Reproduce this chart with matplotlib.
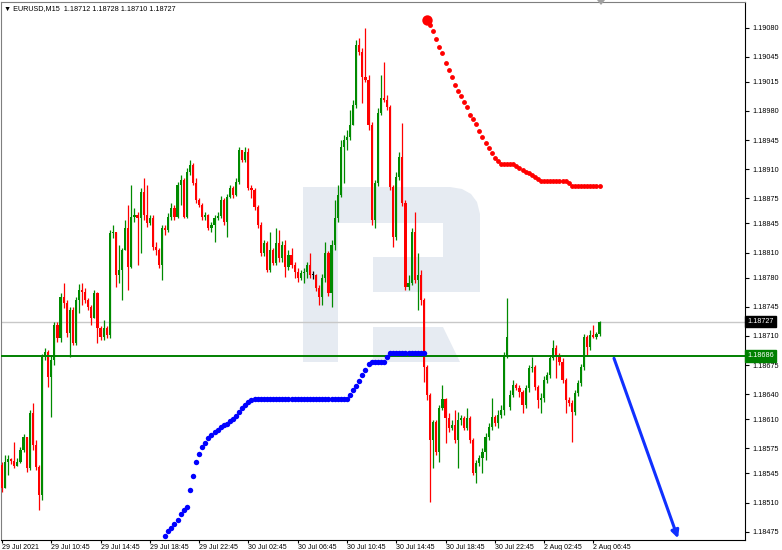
import numpy as np
import matplotlib
matplotlib.use('Agg')
import matplotlib.pyplot as plt
from matplotlib.patches import Polygon

plt.rcParams['font.family'] = ['Liberation Sans', 'DejaVu Sans']

# EURUSD M15 candles, 195 bars (open = previous close unless a gap is listed)
first_open = 1.18555
gap_opens = {165: 1.18625}

closes = [
    1.18527, 1.18559, 1.18562, 1.18560, 1.18554, 1.18559, 1.18573, 1.18589, 1.18551, 1.18617,
    1.18579, 1.18553, 1.18519, 1.18685, 1.18691, 1.18661, 1.18681, 1.18723, 1.18707, 1.18757,
    1.18749, 1.18713, 1.18741, 1.18701, 1.18753, 1.18765, 1.18763, 1.18753, 1.18745, 1.18731,
    1.18761, 1.18719, 1.18709, 1.18719, 1.18711, 1.18833, 1.18835, 1.18783, 1.18789, 1.18813,
    1.18839, 1.18793, 1.18853, 1.18855, 1.18851, 1.18883, 1.18855, 1.18845, 1.18851, 1.18817,
    1.18813, 1.18795, 1.18839, 1.18837, 1.18853, 1.18863, 1.18853, 1.18891, 1.18897, 1.18853,
    1.18907, 1.18915, 1.18893, 1.18873, 1.18867, 1.18853, 1.18855, 1.18839, 1.18843, 1.18851,
    1.18854, 1.18873, 1.18847, 1.18877, 1.18887, 1.18879, 1.18895, 1.18933, 1.18921, 1.18931,
    1.18887, 1.18885, 1.18865, 1.18843, 1.18809, 1.18821, 1.18789, 1.18813, 1.18797, 1.18821,
    1.18803, 1.18819, 1.18793, 1.18807, 1.18795, 1.18787, 1.18779, 1.18785, 1.18787, 1.18795,
    1.18783, 1.18783, 1.18767, 1.18757, 1.18779, 1.18809, 1.18761, 1.18819, 1.18851, 1.18879,
    1.18937, 1.18945, 1.18949, 1.18963, 1.18987, 1.19059, 1.19051, 1.19021, 1.19017, 1.18963,
    1.18849, 1.18893, 1.18977, 1.18995, 1.18993, 1.18985, 1.18889, 1.18829, 1.18901, 1.18925,
    1.18869, 1.18769, 1.18773, 1.18835, 1.18777, 1.18783, 1.18753, 1.18673, 1.18639, 1.18585,
    1.18607, 1.18571, 1.18623, 1.18634, 1.18611, 1.18599, 1.18603, 1.18585, 1.18609, 1.18611,
    1.18599, 1.18611, 1.18585, 1.18545, 1.18557, 1.18563, 1.18571, 1.18589, 1.18601, 1.18613,
    1.18605, 1.18615, 1.18621, 1.18687, 1.18709, 1.18639, 1.18651, 1.18647, 1.18643, 1.18627,
    1.18647, 1.18671, 1.18673, 1.18649, 1.18633, 1.18635, 1.18657, 1.18663, 1.18683, 1.18695,
    1.18686, 1.18679, 1.18657, 1.18633, 1.18629, 1.18619, 1.18641, 1.18653, 1.18673, 1.18709,
    1.18697, 1.18711, 1.18709, 1.18712, 1.18727,
]

highs = [
    1.18559, 1.18567, 1.18567, 1.18563, 1.18583, 1.18563, 1.18577, 1.18592, 1.18589, 1.18621,
    1.18629, 1.18585, 1.18555, 1.18688, 1.18695, 1.18693, 1.18687, 1.18727, 1.18727, 1.18761,
    1.18773, 1.18753, 1.18745, 1.18745, 1.18757, 1.18772, 1.18773, 1.18767, 1.18755, 1.18747,
    1.18765, 1.18763, 1.18722, 1.18729, 1.18722, 1.18837, 1.18843, 1.18835, 1.18819, 1.18815,
    1.18849, 1.18867, 1.18891, 1.18863, 1.18859, 1.18887, 1.18899, 1.18891, 1.18855, 1.18855,
    1.18823, 1.18815, 1.18843, 1.18843, 1.18857, 1.18869, 1.18867, 1.18895, 1.18903, 1.18899,
    1.18911, 1.18921, 1.18917, 1.18899, 1.18875, 1.18869, 1.18859, 1.18856, 1.18847, 1.18855,
    1.18859, 1.18878, 1.18875, 1.18880, 1.18891, 1.18890, 1.18899, 1.18937, 1.18933, 1.18937,
    1.18935, 1.18891, 1.18887, 1.18867, 1.18847, 1.18825, 1.18824, 1.18835, 1.18815, 1.18839,
    1.18837, 1.18824, 1.18825, 1.18813, 1.18815, 1.18799, 1.18791, 1.18789, 1.18791, 1.18799,
    1.18809, 1.18788, 1.18784, 1.18771, 1.18784, 1.18823, 1.18812, 1.18825, 1.18873, 1.18891,
    1.18945, 1.18951, 1.18957, 1.18981, 1.18993, 1.19065, 1.19067, 1.19055, 1.19079, 1.19023,
    1.18967, 1.18897, 1.18983, 1.19023, 1.19039, 1.18999, 1.18987, 1.18891, 1.18907, 1.18931,
    1.18965, 1.18873, 1.18783, 1.18839, 1.18859, 1.18809, 1.18789, 1.18755, 1.18675, 1.18641,
    1.18609, 1.18609, 1.18627, 1.18651, 1.18635, 1.18617, 1.18609, 1.18621, 1.18619, 1.18615,
    1.18614, 1.18623, 1.18614, 1.18587, 1.18561, 1.18567, 1.18575, 1.18593, 1.18605, 1.18635,
    1.18615, 1.18621, 1.18627, 1.18691, 1.18755, 1.18645, 1.18657, 1.18653, 1.18651, 1.18645,
    1.18651, 1.18675, 1.18685, 1.18675, 1.18651, 1.18641, 1.18662, 1.18667, 1.18687, 1.18705,
    1.18699, 1.18689, 1.18683, 1.18659, 1.18637, 1.18633, 1.18645, 1.18657, 1.18676, 1.18712,
    1.18711, 1.18717, 1.18723, 1.18715, 1.18728,
]

lows = [
    1.18523, 1.18537, 1.18543, 1.18556, 1.18551, 1.18554, 1.18557, 1.18571, 1.18547, 1.18549,
    1.18573, 1.18549, 1.18501, 1.18513, 1.18681, 1.18649, 1.18613, 1.18675, 1.18703, 1.18703,
    1.18743, 1.18709, 1.18685, 1.18699, 1.18699, 1.18737, 1.18747, 1.18749, 1.18741, 1.18723,
    1.18731, 1.18701, 1.18705, 1.18705, 1.18707, 1.18707, 1.18827, 1.18769, 1.18773, 1.18753,
    1.18825, 1.18765, 1.18791, 1.18847, 1.18795, 1.18809, 1.18849, 1.18841, 1.18843, 1.18813,
    1.18807, 1.18791, 1.18777, 1.18831, 1.18835, 1.18849, 1.18849, 1.18851, 1.18867, 1.18851,
    1.18851, 1.18903, 1.18891, 1.18869, 1.18865, 1.18849, 1.18849, 1.18837, 1.18835, 1.18823,
    1.18849, 1.18851, 1.18843, 1.18829, 1.18875, 1.18875, 1.18878, 1.18892, 1.18919, 1.18919,
    1.18885, 1.18875, 1.18861, 1.18839, 1.18806, 1.18806, 1.18787, 1.18787, 1.18795, 1.18795,
    1.18799, 1.18799, 1.18781, 1.18789, 1.18791, 1.18779, 1.18775, 1.18777, 1.18773, 1.18779,
    1.18779, 1.18778, 1.18764, 1.18747, 1.18747, 1.18775, 1.18758, 1.18745, 1.18813, 1.18847,
    1.18877, 1.18893, 1.18933, 1.18945, 1.18963, 1.18983, 1.19047, 1.18989, 1.19015, 1.18957,
    1.18843, 1.18839, 1.18890, 1.18975, 1.18991, 1.18981, 1.18885, 1.18817, 1.18825, 1.18897,
    1.18866, 1.18765, 1.18765, 1.18771, 1.18773, 1.18741, 1.18747, 1.18655, 1.18633, 1.18511,
    1.18551, 1.18567, 1.18559, 1.18621, 1.18581, 1.18595, 1.18597, 1.18581, 1.18551, 1.18603,
    1.18597, 1.18597, 1.18581, 1.18543, 1.18533, 1.18554, 1.18545, 1.18561, 1.18585, 1.18597,
    1.18602, 1.18599, 1.18611, 1.18615, 1.18683, 1.18621, 1.18637, 1.18645, 1.18637, 1.18617,
    1.18623, 1.18643, 1.18667, 1.18645, 1.18623, 1.18617, 1.18631, 1.18653, 1.18659, 1.18681,
    1.18659, 1.18675, 1.18653, 1.18617, 1.18626, 1.18583, 1.18615, 1.18638, 1.18650, 1.18669,
    1.18687, 1.18693, 1.18707, 1.18706, 1.18710,
]

# Parabolic SAR dots
sar_up_start = 53
sar_up = ([1.18470, 1.18476, 1.18479, 1.18484, 1.18489, 1.18496, 1.18501, 1.18505, 1.18525,
           1.18542, 1.18559, 1.18568, 1.18577, 1.18581, 1.18587, 1.18591, 1.18595, 1.18597,
           1.18601, 1.18603, 1.18604, 1.18608, 1.18610, 1.18614, 1.18619, 1.18623, 1.18627,
           1.18631, 1.18633]
          + [1.18634] * 31
          + [1.18639, 1.18645, 1.18650, 1.18656, 1.18663, 1.18669, 1.18676]
          + [1.18679] * 5 + [1.18685] + [1.18689] * 12)
sar_dn_start = 138
sar_dn = ([1.19089, 1.19083, 1.19076, 1.19066, 1.19057, 1.19049, 1.19037, 1.19029, 1.19021,
           1.19011, 1.19004, 1.18998, 1.18991, 1.18985, 1.18975, 1.18970, 1.18964, 1.18956,
           1.18949, 1.18941, 1.18935, 1.18929, 1.18923, 1.18920]
          + [1.18916] * 5
          + [1.18914, 1.18911, 1.18909, 1.18907, 1.18905, 1.18903, 1.18901, 1.18898]
          + [1.18896] * 9 + [1.18893] + [1.18890] * 10)

level_line = 1.18686
last_price = 1.18727
arrow_from = (198.7, 1.18683)
arrow_to = (219.5, 1.18467)

y_ticks = [1.19080, 1.19045, 1.19015, 1.18980, 1.18945, 1.18910, 1.18875, 1.18845, 1.18810,
           1.18780, 1.18745, 1.18710, 1.18675, 1.18640, 1.18610, 1.18575, 1.18545, 1.18510,
           1.18475]
x_tick_labels = ['29 Jul 2021', '29 Jul 10:45', '29 Jul 14:45', '29 Jul 18:45', '29 Jul 22:45',
                 '30 Jul 02:45', '30 Jul 06:45', '30 Jul 10:45', '30 Jul 14:45', '30 Jul 18:45',
                 '30 Jul 22:45', '2 Aug 02:45', '2 Aug 06:45']

W, H = 782, 550
fs = 5.2
fig = plt.figure(figsize=(W / 100, H / 100), dpi=100)
fig.patch.set_facecolor('white')
ax = fig.add_axes([1 / W, 10 / H, 744 / W, 538 / H])

closes = np.array(closes)
highs = np.array(highs)
lows = np.array(lows)
opens = np.r_[first_open, closes[:-1]]
for k, v in gap_opens.items():
    opens[k] = v
highs = np.maximum(highs, np.maximum(opens, closes))
lows = np.minimum(lows, np.minimum(opens, closes))
idx = np.arange(len(closes))

# watermark logo (pixel coords -> axes fraction)
def px2ax(pts):
    return [((px - 1) / 744, 1 - (py - 2) / 538) for px, py in pts]

wm = '#e6ebf2'
ax.add_patch(Polygon(px2ax([(303, 187), (450, 187), (462, 189), (471, 194), (477, 202),
                            (480, 214), (480, 292), (373, 292), (373, 257), (443, 257),
                            (443, 223), (338, 223), (338, 362), (303, 362)]),
                     closed=True, transform=ax.transAxes, color=wm, lw=0, zorder=0))
ax.add_patch(Polygon(px2ax([(373, 327), (443, 327), (460, 362), (373, 362)]),
                     closed=True, transform=ax.transAxes, color=wm, lw=0, zorder=0))

# horizontal lines
ax.axhline(last_price, color='#c8c8c8', lw=1, zorder=1)
ax.axhline(level_line, color='#008000', lw=1.4, zorder=4)

# candles
up = closes > opens
dn = closes < opens
col = np.where(up, '#008a00', np.where(dn, '#ff0000', '#000000'))
ax.vlines(idx, lows, highs, colors=col, lw=0.9, zorder=2)
body = closes - opens
body = np.where(np.abs(body) < 1e-5, 1.2e-5, body)
ax.bar(idx, body, bottom=opens, width=0.7, color=col, lw=0, zorder=3)

# SAR
ax.plot(np.arange(sar_up_start, sar_up_start + len(sar_up)), sar_up, 'o',
        color='#0000ff', ms=3.9, mew=0, zorder=5)
ax.plot(np.arange(sar_dn_start, sar_dn_start + len(sar_dn)), sar_dn, 'o',
        color='#ff0000', ms=3.5, mew=0, zorder=5)
ax.plot([sar_dn_start], [sar_dn[0]], 'o', color='#ff0000', ms=7.5, mew=0, zorder=5)

# arrow
ax.annotate('', xy=arrow_to, xytext=arrow_from, annotation_clip=False,
            arrowprops=dict(arrowstyle='-|>', color='#1030ff', lw=2.2,
                            mutation_scale=11, shrinkA=0, shrinkB=0), zorder=6)

step = 3.08
ax.set_xlim((1 - 2) / step, (745 - 2) / step)
ax.set_ylim(1.19113 - 0.000012 * 540, 1.19113 - 0.000012 * 2)

ax.yaxis.tick_right()
ax.set_yticks(y_ticks)
ax.set_yticklabels(['%.5f' % v for v in y_ticks])
ax.tick_params(axis='y', direction='out', length=3, width=0.8, pad=2.5, labelsize=fs,
               colors='#000000')
ax.set_xticks(np.arange(0, 16 * len(x_tick_labels), 16))
ax.set_xticklabels(x_tick_labels, ha='left')
ax.tick_params(axis='x', direction='out', length=2.5, width=0.8, pad=0.2, labelsize=5)

for s in ['right', 'bottom']:
    ax.spines[s].set_color('#000000')
for s in ['left', 'top']:
    ax.spines[s].set_color('#7f7f7f')

# price labels on the right axis
tr = ax.get_yaxis_transform()
ax.text(1.003, last_price, '1.18727', transform=tr, fontsize=fs, color='white',
        va='center', ha='left', zorder=7,
        bbox=dict(boxstyle='square,pad=0.3', fc='black', ec='black'))
ax.text(1.003, level_line, '1.18686', transform=tr, fontsize=fs, color='white',
        va='center', ha='left', zorder=7,
        bbox=dict(boxstyle='square,pad=0.3', fc='#008000', ec='#008000'))

# header
fig.text(4 / W, 1 - 9 / H, '\u25bc EURUSD,M15  1.18712 1.18728 1.18710 1.18727',
         fontsize=fs, va='center', ha='left')
# chart shift marker
fig.patches.append(Polygon([(597 / W, 1 - 0 / H), (605 / W, 1 - 0 / H), (601 / W, 1 - 5 / H)],
                           closed=True, transform=fig.transFigure, color='#a0a0a0', lw=0))

fig.savefig('out.png', dpi=100)
